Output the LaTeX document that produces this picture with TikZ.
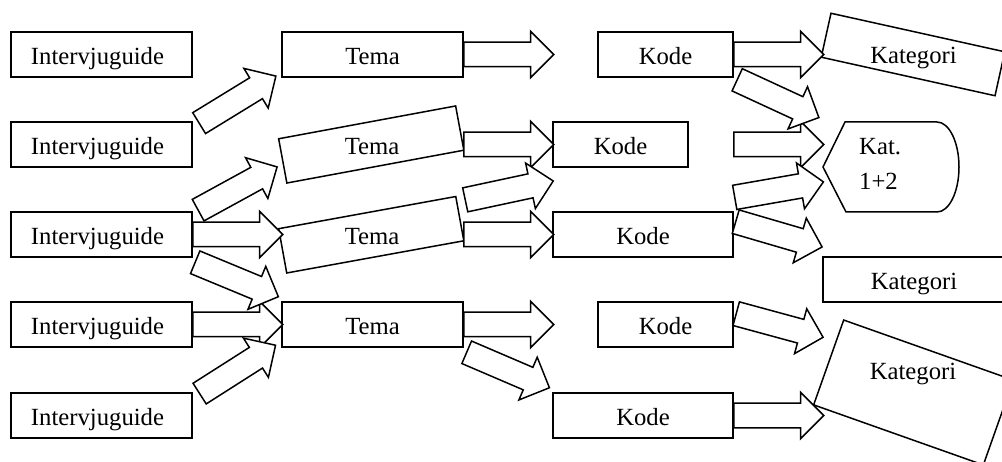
\documentclass[tikz,border=0pt]{standalone}
\usepackage{fontspec}
\setmainfont{Liberation Serif}
\usetikzlibrary{shapes.arrows}
\begin{document}
\begin{tikzpicture}[x=1pt,y=-1pt,
  every node/.style={font=\fontsize{24.7pt}{29pt}\selectfont},
  box/.style={draw, line width=1.5pt, fill=white, minimum height=45pt,
    inner sep=0pt, text height=19.5pt, text depth=0pt},
  lbl/.style={inner sep=0pt, text height=19.5pt, text depth=0pt},
  blk/.style={single arrow, draw, fill=white, line width=1.5pt,
    minimum height=90pt, inner xsep=0pt, inner ysep=11.5pt,
    single arrow head extend=11pt, single arrow tip angle=90, anchor=tail},
]
\useasboundingbox (0,0) rectangle (1002,462);
\newcommand{\guide}{\hspace*{-8pt}Intervjuguide}

% interview guides
\node[box, minimum width=181pt] (ig1) at (101.5,54.5)  {\guide};
\node[box, minimum width=181pt] (ig2) at (101.5,144.5) {\guide};
\node[box, minimum width=181pt] (ig3) at (101.5,234.5) {\guide};
\node[box, minimum width=181pt] (ig4) at (101.5,324.5) {\guide};
\node[box, minimum width=181pt] (ig5) at (101.5,415.5) {\guide};

% themes
\node[box, minimum width=181pt] (t1) at (372.5,54.5) {Tema};
\node[box, minimum width=180pt, rotate=10.5] (t2) at (371.25,144.5) {};
\node[lbl] (t2l) at (372,145) {Tema};
\node[box, minimum width=180pt, rotate=10.3] (t3) at (371.25,234.75) {};
\node[lbl] (t3l) at (372,235) {Tema};
\node[box, minimum width=181pt] (t4) at (372.5,324.5) {Tema};

% codes
\node[box, minimum width=135pt] (k1) at (665.5,54.5)  {Kode};
\node[box, minimum width=135pt] (k2) at (620.5,144.5) {Kode};
\node[box, minimum width=180pt] (k3) at (643,234.5)   {Kode};
\node[box, minimum width=135pt] (k4) at (665.5,324.5) {Kode};
\node[box, minimum width=180pt] (k5) at (643,415.5)   {Kode};

% categories
\node[box, minimum width=178pt, rotate=-12.5] (c1) at (913,54.5) {};
\node[lbl] (c1l) at (913.5,54) {Kategori};
\draw[line width=1.5pt, fill=white] (845,122) -- (937,122)
  arc[start angle=90, end angle=-90, x radius=22pt, y radius=45pt]
  -- (846,212) -- (823,167) -- cycle;
\coordinate (c12) at (890,167);
\node[lbl, anchor=base west] (c12a) at (859,155) {Kat.};
\node[lbl, anchor=base west] (c12b) at (859,190) {1+2};
\node[box, minimum width=182pt] (c2) at (914,279.5) {Kategori};
\node[box, minimum width=180pt, minimum height=90pt, rotate=-19.5] (c3) at (913.5,392.5) {};
\node[lbl] (c3l) at (913,370.25) {Kategori};

% straight block arrows
\node[blk] (a3)  at (192,234.5) {};
\node[blk] (a5)  at (192,324.5) {};
\node[blk] (a7)  at (463,54.5)  {};
\node[blk] (a8)  at (463,144.5) {};
\node[blk] (a10) at (463,234.5) {};
\node[blk] (a11) at (463,324.5) {};
\node[blk] (a13) at (733,54.5)  {};
\node[blk] (a15) at (733,144.5) {};
\node[blk] (a19) at (733,415.5) {};

% slanted block arrows
\node[blk, rotate=31.5]  (a1)  at (198.5,123.5) {};
\node[blk, rotate=28.7]  (a2)  at (197.5,210.5) {};
\node[blk, rotate=-22.5] (a4)  at (194.5,262)   {};
\node[blk, rotate=32.5]  (a6)  at (199,394)     {};
\node[blk, rotate=12.1]  (a9)  at (464.5,200)   {};
\node[blk, rotate=-23.2] (a12) at (466,352)     {};
\node[blk, rotate=-24.8] (a14) at (736.5,79.5)  {};
\node[blk, rotate=9.9]   (a16) at (734,197.5)   {};
\node[blk, rotate=-16.3] (a17) at (735,221.5)   {};
\node[blk, rotate=-15.2] (a18) at (735.5,313.5) {};
\end{tikzpicture}
\end{document}
